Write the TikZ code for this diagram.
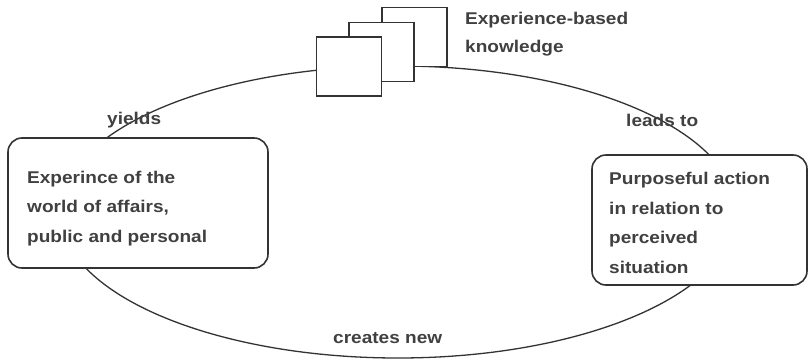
\documentclass[tikz,border=0pt]{standalone}
\usepackage{fontspec}
\setmainfont{Liberation Sans}[FakeStretch=1.12]
\usetikzlibrary{shapes.geometric}
\begin{document}
\begin{tikzpicture}[x=1pt,y=-1pt,
  txt/.style={text=black!75, font=\fontsize{17}{29.5}\selectfont\bfseries, inner sep=0pt, align=left},
  box/.style={draw=black!80, line width=1.6pt, fill=white, rounded corners=14pt, inner sep=0pt},
  sq/.style={draw=black!80, line width=1.6pt, fill=white, minimum width=65pt, minimum height=59pt, inner sep=0pt},
  ring/.style={draw=black!80, line width=1.3pt, ellipse, inner sep=0pt}]
\useasboundingbox (0,0) rectangle (810,359);
\node[ring, minimum width=676pt, minimum height=292pt] (cycle) at (398,212) {};
\node[box, minimum width=260pt, minimum height=130pt] (world) at (138,203) {};
\node[box, minimum width=215pt, minimum height=130pt] (action) at (699.5,220) {};
\node[sq] (k3) at (414.5,37) {};
\node[sq] (k2) at (381.5,52) {};
\node[sq] (k1) at (349,66.5) {};
\node[txt, anchor=base west] (worldtext) at (27,242) {Experince of the\\world of affairs,\\public and personal};
\node[txt, anchor=base west] (actiontext) at (609,273) {Purposeful action\\in relation to\\perceived\\situation};
\node[txt, anchor=base west, font=\fontsize{17}{28}\selectfont\bfseries] (ktext) at (465,52) {Experience-based\\knowledge};
\node[txt, anchor=base west] (yields) at (107,124) {yields};
\node[txt, anchor=base west] (leads) at (626,126) {leads to};
\node[txt, anchor=base west] (creates) at (333,343) {creates new};
\end{tikzpicture}
\end{document}
